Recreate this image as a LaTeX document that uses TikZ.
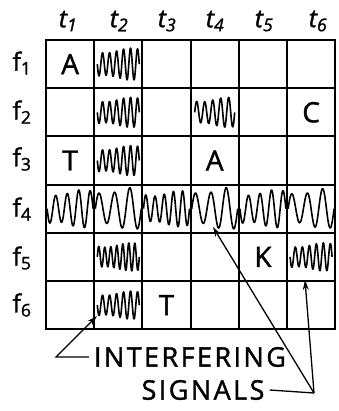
\documentclass[tikz,border=0pt]{standalone}
\usepackage{fontspec}
\setmainfont{Open Sans}
\newfontfamily\hand{Open Sans}[FakeBold=1.4]
\usetikzlibrary{arrows.meta}

% scribbled interference inside one cell: cell, half width, amplitude, cycles
\newcommand{\noise}[4]{%
  \draw[scribble, shift={(#1.center)}]
    plot[domain=-#2:#2, samples=180, smooth]
    (\x, {#3*(0.85+0.15*sin(7*\x))*sin(\x/#2*#4*180)});}

\begin{document}
\begin{tikzpicture}[
    x=1pt, y=-1pt,
    cell/.style={
        rectangle, draw, line width=2pt,
        minimum size=48.2pt, inner sep=0pt, outer sep=0pt
    },
    head/.style={font=\fontsize{25}{28}\selectfont\hand\itshape},
    side/.style={font=\fontsize{25}{28}\selectfont\hand},
    glyph/.style={font=\fontsize{28}{30}\selectfont\hand},
    caption/.style={font=\fontsize{27}{30}\selectfont\hand\addfontfeature{LetterSpace=9},
        inner sep=5pt},
    scribble/.style={line width=1.6pt, line join=round},
    pointer/.style={-{Stealth[length=10pt, width=6pt]}, line width=1.3pt}
]
    \useasboundingbox (0,0) rectangle (338,411);

    % the time / frequency grid
    \foreach \r in {1,...,6}
        \foreach \c in {1,...,6}
            \node[cell] (c\r\c) at ({46+48.2*(\c-0.5)}, {40+48.2*(\r-0.5)}) {};

    \node[head] (t1) at (68,21) {t\textsubscript{1}};
    \node[head] (t2) at (119,21) {t\textsubscript{2}};
    \node[head] (t3) at (167,21) {t\textsubscript{3}};
    \node[head] (t4) at (215,21) {t\textsubscript{4}};
    \node[head] (t5) at (264,21) {t\textsubscript{5}};
    \node[head] (t6) at (318,21) {t\textsubscript{6}};

    \node[side] (f1) at (22,63) {f\textsubscript{1}};
    \node[side] (f2) at (22,112) {f\textsubscript{2}};
    \node[side] (f3) at (22,159) {f\textsubscript{3}};
    \node[side] (f4) at (22,209) {f\textsubscript{4}};
    \node[side] (f5) at (22,258) {f\textsubscript{5}};
    \node[side] (f6) at (22,305) {f\textsubscript{6}};

    % wanted signals
    \node[glyph] (a1) at (c11) {A};
    \node[glyph] (cc) at (c26) {C};
    \node[glyph] (ta) at (c31) {T};
    \node[glyph] (a2) at (c34) {A};
    \node[glyph] (kk) at (c55) {K};
    \node[glyph] (tb) at (c63) {T};

    % interference
    \noise{c12}{21}{16}{6}
    \noise{c22}{21}{15}{6}
    \noise{c24}{20}{15}{5}
    \noise{c32}{21}{15}{6}
    \noise{c52}{21}{14}{7}
    \noise{c56}{21}{14}{6}
    \noise{c62}{21}{14}{6}
    \noise{c41}{23}{19}{4}
    \noise{c42}{23}{21}{3}
    \noise{c43}{23}{18}{5}
    \noise{c44}{23}{21}{3}
    \noise{c45}{23}{19}{4}
    \noise{c46}{23}{20}{3}

    % captions and pointers
    \node[caption] (intr) at (190,357) {INTERFERING};
    \node[caption] (sig) at (203,390) {SIGNALS};

    \coordinate (bendL) at (56,357);
    \coordinate (hitL) at (97,316);
    \coordinate (meetR) at (314,393);
    \coordinate (hitM) at (213,227);
    \coordinate (hitR) at (305,280);

    \draw[pointer] (intr.west) -- (bendL) -- (hitL);
    \draw[line width=1.3pt] (sig.east) -- (meetR);
    \draw[pointer] (meetR) -- (hitM);
    \draw[pointer] (meetR) -- (hitR);
\end{tikzpicture}
\end{document}
